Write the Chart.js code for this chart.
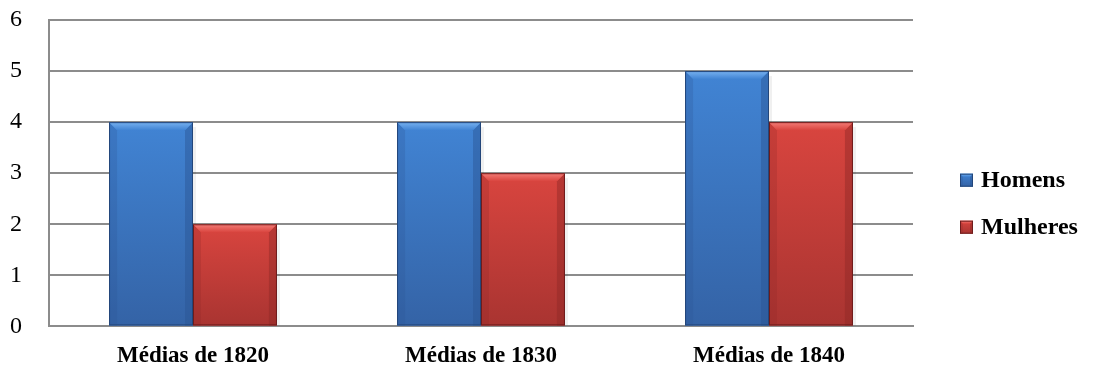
<!DOCTYPE html>
<html>
<head>
<meta charset="utf-8">
<script src="https://cdn.jsdelivr.net/npm/chart.js@4/dist/chart.umd.min.js"></script>
<style>
  html, body { margin: 0; padding: 0; background: #fff; }
  #wrap { width: 1094px; height: 378px; }
</style>
</head>
<body>
<div id="wrap"><canvas id="chart"></canvas></div>
<script>
const categories = ["Médias de 1820", "Médias de 1830", "Médias de 1840"]
const homens   = [4, 4, 5]
const mulheres = [2, 3, 4]
const yTicks   = [0, 1, 2, 3, 4, 5, 6]

const SERIF = "Liberation Serif"

// Tones per series: face top, face bottom, light edge, dark edge, outline
const shades = {
  blue: { top: "#4184d4", bottom: "#3463a6", light: "#78b2f0", dark: "#2b5492", line: "#23467a" },
  red:  { top: "#d9453f", bottom: "#a93431", light: "#f47d78", dark: "#8e2826", line: "#6e1c1c" }
}

// Rectangle with bevelled edges, used for bars and legend keys
function bevelRect(ctx, l, t, r, b, s, bw) {
  const g = ctx.createLinearGradient(0, t, 0, b)
  g.addColorStop(0, s.top)
  g.addColorStop(1, s.bottom)
  ctx.fillStyle = g
  ctx.fillRect(l, t, r - l, b - t)

  ctx.fillStyle = s.dark
  ctx.globalAlpha = 0.25
  ctx.beginPath()
  ctx.moveTo(l, t); ctx.lineTo(l + bw, t + bw); ctx.lineTo(l + bw, b); ctx.lineTo(l, b); ctx.closePath()
  ctx.fill()
  ctx.globalAlpha = 0.45
  ctx.beginPath()
  ctx.moveTo(r, t); ctx.lineTo(r - bw, t + bw); ctx.lineTo(r - bw, b); ctx.lineTo(r, b); ctx.closePath()
  ctx.fill()
  ctx.globalAlpha = 1

  const gt = ctx.createLinearGradient(0, t, 0, t + bw)
  gt.addColorStop(0, s.light)
  gt.addColorStop(1, s.top)
  ctx.fillStyle = gt
  ctx.beginPath()
  ctx.moveTo(l, t); ctx.lineTo(r, t); ctx.lineTo(r - bw, t + bw); ctx.lineTo(l + bw, t + bw); ctx.closePath()
  ctx.fill()

  ctx.strokeStyle = s.line
  ctx.lineWidth = 1
  ctx.strokeRect(l + 0.5, t + 0.5, r - l - 1, b - t - 1)
}

// Bevelled face for each bar, drawn over the plain bar fill
const bevelBars = {
  id: "bevelBars",
  afterDatasetsDraw(chart) {
    const ctx = chart.ctx
    chart.data.datasets.forEach((ds, di) => {
      const s = shades[ds.tone]
      chart.getDatasetMeta(di).data.forEach(bar => {
        const { x, y, base, width } = bar.getProps(["x", "y", "base", "width"], true)
        const l = x - width / 2, r = x + width / 2
        ctx.save()
        ctx.fillStyle = "rgba(0,0,0,0.06)"
        ctx.fillRect(r, y + 5, 3, base - y - 5)
        bevelRect(ctx, l, y, r, base, s, 8)
        ctx.restore()
      })
    })
  }
}

// Legend on the right, with bevelled keys like the bars
const sideLegend = {
  id: "sideLegend",
  afterDraw(chart) {
    const ctx = chart.ctx
    const area = chart.chartArea
    const x0 = area.right + 47
    const mid = (area.top + area.bottom) / 2 + 30
    const step = 47
    const n = chart.data.datasets.length
    ctx.save()
    ctx.font = `bold 24px ${SERIF}`
    ctx.textBaseline = "middle"
    chart.data.datasets.forEach((ds, i) => {
      const cy = mid + (i - (n - 1) / 2) * step
      bevelRect(ctx, x0, cy - 6, x0 + 13, cy + 7, shades[ds.tone], 3)
      ctx.fillStyle = "#000"
      ctx.fillText(ds.label, x0 + 21, cy + 1)
    })
    ctx.restore()
  }
}

new Chart(document.getElementById("chart"), {
  type: "bar",
  data: {
    labels: categories,
    datasets: [
      { label: "Homens",   data: homens,   tone: "blue", backgroundColor: "#3c7acb" },
      { label: "Mulheres", data: mulheres, tone: "red",  backgroundColor: "#c43d3a" }
    ]
  },
  options: {
    responsive: true,
    maintainAspectRatio: false,
    animation: false,
    layout: { padding: { top: 20, right: 181, left: 10, bottom: -8 } },
    datasets: { bar: { barPercentage: 1, categoryPercentage: 0.583 } },
    plugins: {
      tooltip: { enabled: false },
      legend: { display: false }
    },
    scales: {
      x: {
        grid: { display: false, drawTicks: false },
        border: { color: "#8c8c8c", width: 2 },
        ticks: { color: "#000", padding: 16, font: { family: SERIF, size: 23, weight: "bold" } }
      },
      y: {
        min: 0,
        max: 6,
        afterBuildTicks(axis) { axis.ticks = yTicks.map(v => ({ value: v })) },
        afterFit(axis) { axis.width = 39 },
        grid: { color: "#8c8c8c", lineWidth: 2, drawTicks: false },
        border: { color: "#8c8c8c", width: 2 },
        ticks: { color: "#000", padding: 0, crossAlign: "far", font: { family: SERIF, size: 24 } }
      }
    }
  },
  plugins: [bevelBars, sideLegend]
})
</script>
</body>
</html>
